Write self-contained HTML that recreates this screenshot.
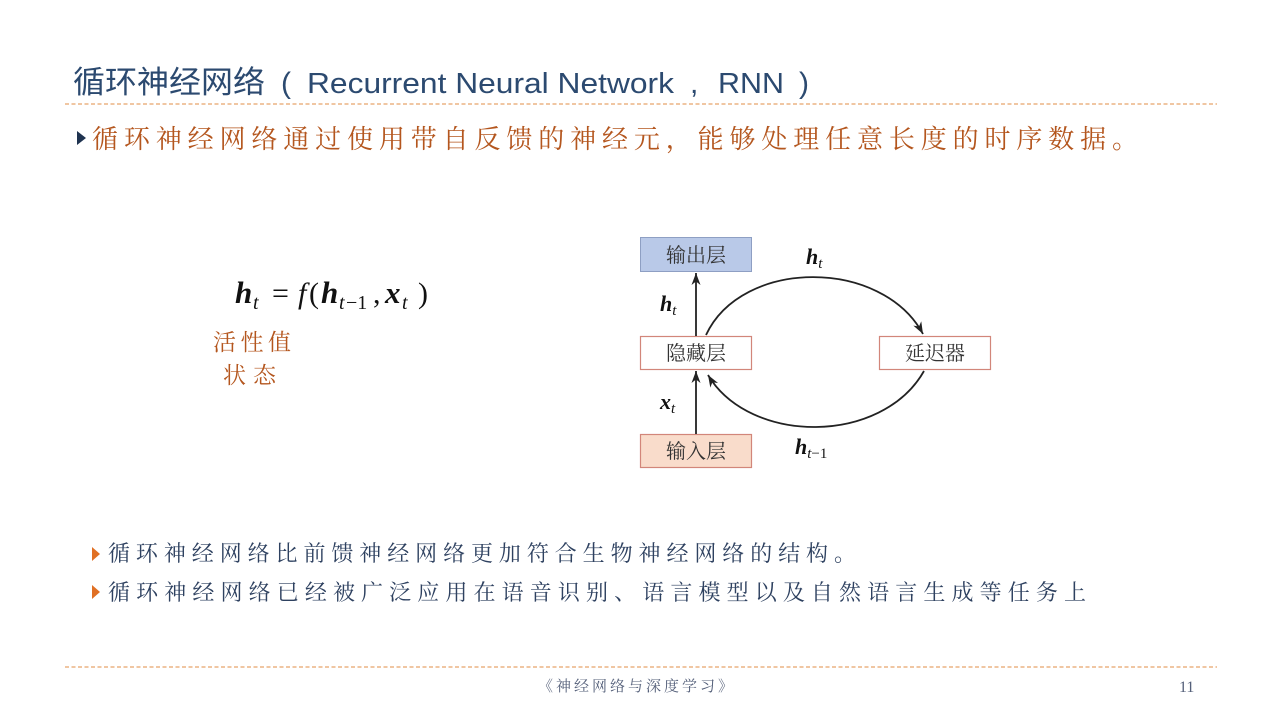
<!DOCTYPE html>
<html>
<head>
<meta charset="utf-8">
<style>
html,body{margin:0;padding:0;background:#fff;}
body{width:1280px;height:720px;overflow:hidden;}
svg{display:block;}
.cjks{font-family:"Liberation Sans","Noto Sans CJK SC",sans-serif;}
.cjk{font-family:"Liberation Serif","Noto Serif CJK SC",serif;}
.m{font-family:"Liberation Serif","DejaVu Serif",serif;}
</style>
</head>
<body>
<svg width="1280" height="720" viewBox="0 0 1280 720" xmlns="http://www.w3.org/2000/svg">
  <defs>
    <marker id="ah" markerWidth="13" markerHeight="10" refX="12" refY="4.5" orient="auto" markerUnits="userSpaceOnUse">
      <path d="M0,0 L12,4.5 L0,9 L3.5,4.5 z" fill="#222"/>
    </marker>
  </defs>

  <!-- Title -->
  <text class="cjks" x="73" y="93" font-size="31" fill="#2c4a70" textLength="192" lengthAdjust="spacingAndGlyphs">循环神经网络</text>
  <text class="cjks" x="281" y="93" font-size="30" fill="#2c4a70">(</text>
  <text class="cjks" x="307" y="93" font-size="29" fill="#2c4a70" textLength="367" lengthAdjust="spacingAndGlyphs">Recurrent Neural Network</text>
  <text class="cjks" x="690" y="93" font-size="30" fill="#2c4a70">,</text>
  <text class="cjks" x="718" y="93" font-size="29" fill="#2c4a70" textLength="66" lengthAdjust="spacingAndGlyphs">RNN</text>
  <text class="cjks" x="799" y="93" font-size="30" fill="#2c4a70">)</text>

  <!-- header dashed line -->
  <line x1="65" y1="104" x2="1217" y2="104" stroke="#e6a46a" stroke-width="1.2" stroke-dasharray="4,2.5"/>

  <!-- first bullet -->
  <polygon points="77,131 86,138 77,145" fill="#1f3350"/>
  <text class="cjk" x="92" y="148" font-size="26" fill="#b4561e" textLength="1046" lengthAdjust="spacing">循环神经网络通过使用带自反馈的神经元，能够处理任意长度的时序数据。</text>

  <!-- formula -->
  <g class="m" fill="#111">
    <text x="235" y="303" font-size="31" font-weight="bold" font-style="italic">h</text>
    <text x="253" y="309" font-size="20" font-style="italic">t</text>
    <text x="272" y="303" font-size="30">=</text>
    <text x="298" y="303" font-size="30" font-style="italic">f</text>
    <text x="309" y="303" font-size="30">(</text>
    <text x="321" y="303" font-size="31" font-weight="bold" font-style="italic">h</text>
    <text x="339" y="309" font-size="20" font-style="italic">t</text>
    <text x="346" y="309" font-size="20">−1</text>
    <text x="373" y="303" font-size="30">,</text>
    <text x="385" y="303" font-size="31" font-weight="bold" font-style="italic">x</text>
    <text x="402" y="309" font-size="20" font-style="italic">t</text>
    <text x="418" y="303" font-size="30">)</text>
  </g>

  <text class="cjk" x="213" y="350" font-size="23" fill="#b4561e" textLength="78" lengthAdjust="spacing">活性值</text>
  <text class="cjk" x="223" y="383" font-size="23" fill="#b4561e" textLength="53" lengthAdjust="spacing">状态</text>

  <!-- diagram boxes -->
  <rect x="640.5" y="237.5" width="111" height="34" fill="#b9c9e8" stroke="#8e9fc3" stroke-width="1"/>
  <text class="cjk" x="696" y="262" font-size="20" fill="#333" text-anchor="middle">输出层</text>

  <rect x="640.5" y="336.5" width="111" height="33" fill="#fff" stroke="#d2867a" stroke-width="1.2"/>
  <text class="cjk" x="696" y="360" font-size="20" fill="#333" text-anchor="middle">隐藏层</text>

  <rect x="640.5" y="434.5" width="111" height="33" fill="#f9dccb" stroke="#d2867a" stroke-width="1.2"/>
  <text class="cjk" x="696" y="458" font-size="20" fill="#333" text-anchor="middle">输入层</text>

  <rect x="879.5" y="336.5" width="111" height="33" fill="#fff" stroke="#d2867a" stroke-width="1.2"/>
  <text class="cjk" x="935" y="360" font-size="20" fill="#333" text-anchor="middle">延迟器</text>

  <!-- vertical arrows -->
  <line x1="696" y1="336" x2="696" y2="273" stroke="#222" stroke-width="1.8" marker-end="url(#ah)"/>
  <line x1="696" y1="434" x2="696" y2="371" stroke="#222" stroke-width="1.8" marker-end="url(#ah)"/>

  <!-- arcs -->
  <path d="M706,335 C742,258 882,258 923,334" fill="none" stroke="#222" stroke-width="1.8" marker-end="url(#ah)"/>
  <path d="M924,371 C882,445 750,445 708,375" fill="none" stroke="#222" stroke-width="1.8" marker-end="url(#ah)"/>

  <!-- math labels -->
  <text class="m" x="806" y="264" font-size="22" fill="#111"><tspan font-weight="bold" font-style="italic">h</tspan><tspan font-style="italic" font-size="15" dy="4">t</tspan></text>
  <text class="m" x="660" y="311" font-size="22" fill="#111"><tspan font-weight="bold" font-style="italic">h</tspan><tspan font-style="italic" font-size="15" dy="4">t</tspan></text>
  <text class="m" x="660" y="409" font-size="22" fill="#111"><tspan font-weight="bold" font-style="italic">x</tspan><tspan font-style="italic" font-size="15" dy="4">t</tspan></text>
  <text class="m" x="795" y="454" font-size="22" fill="#111"><tspan font-weight="bold" font-style="italic">h</tspan><tspan font-style="italic" font-size="15" dy="4">t</tspan><tspan font-size="15">−1</tspan></text>

  <!-- bottom bullets -->
  <polygon points="92,547 100,554 92,561" fill="#e07024"/>
  <text class="cjk" x="108" y="561" font-size="22" fill="#2e4160" textLength="748" lengthAdjust="spacing">循环神经网络比前馈神经网络更加符合生物神经网络的结构。</text>
  <polygon points="92,585 100,592 92,599" fill="#e07024"/>
  <text class="cjk" x="108" y="600" font-size="22" fill="#2e4160" textLength="978" lengthAdjust="spacing">循环神经网络已经被广泛应用在语音识别、语言模型以及自然语言生成等任务上</text>

  <!-- footer -->
  <line x1="65" y1="667" x2="1217" y2="667" stroke="#e6a46a" stroke-width="1.2" stroke-dasharray="4,2.5"/>
  <text class="cjk" x="538" y="691" font-size="15" fill="#55607a" textLength="195" lengthAdjust="spacing">《神经网络与深度学习》</text>
  <text class="m" x="1179" y="692" font-size="16" fill="#55607a">11</text>
</svg>
</body>
</html>
